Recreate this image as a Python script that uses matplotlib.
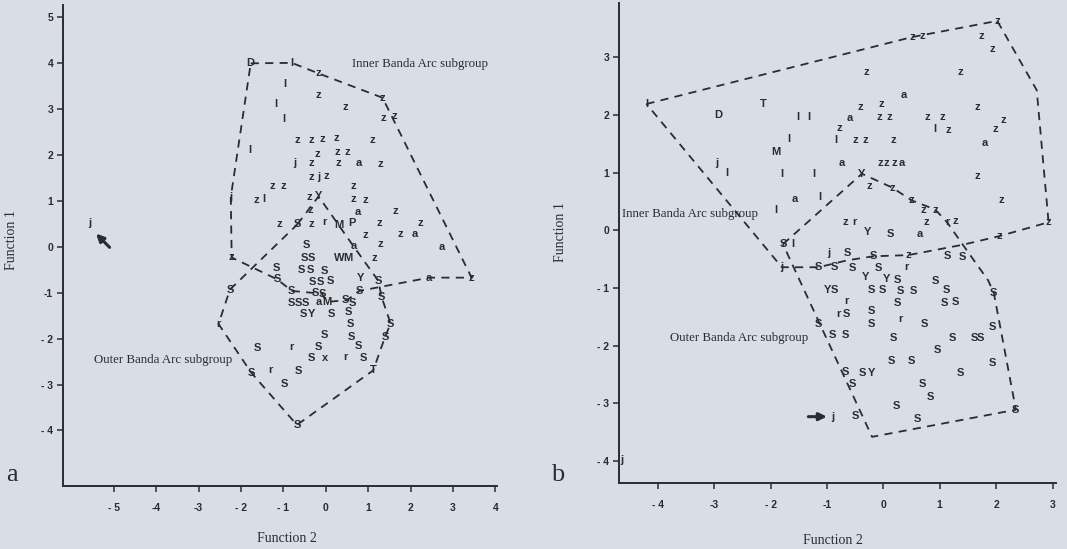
import matplotlib
matplotlib.use("Agg")
import matplotlib.pyplot as plt

# ---------------- data: panel a ----------------
a_labels = ("D l z z l z z l l z z".split()
            + "z z z z z l z z z".split()
            + "j z z a z z j z z z z".split()
            + "j z l z Y z z z a z".split()
            + "z S z r M P z z z z a a".split()
            + "S a z z S S W M z".split()
            + "S S S S Y S S S S S z a".split()
            + "S S S S S S S S S a M".split()
            + "S S S Y S S S S S S S".split()
            + "S r S S S x r S S r S".split()
            + "T S r S j".split())
a_x = [-1.77, -0.80, -0.17, 1.34, -0.96, -0.17, 0.47, -1.17, -1.00, 1.36, 1.61,
       -0.68, -0.35, -0.07, 0.26, 1.11, -1.79, -0.21, 0.28, 0.50,
       -0.74, -0.35, 0.30, 0.79, 1.28, -0.33, -0.17, 0.02, -1.25, -1.01, 0.65,
       -2.24, -1.64, -1.47, -0.39, -0.17, 0.64, 0.94, -0.37, 0.75, 1.63,
       -1.09, -0.67, -0.33, -0.02, 0.30, 0.61, 1.26, 2.24, 0.94, 1.75, 2.09, 2.74,
       -0.46, 0.65, 1.28, -2.22, -0.50, -0.35, 0.32, 0.52, 1.14,
       -1.16, -0.57, -0.37, -0.04, 0.81, -1.14, -0.32, -0.13, 0.10, 1.24, 3.44, 2.44,
       -2.26, -0.80, -0.25, -0.09, 0.79, 1.32, -0.80, -0.65, -0.49, -0.17, 0.02,
       0.46, 0.64, -0.53, -0.33, 0.14, 0.53, 0.59, 1.53, -0.04, 0.61, 1.40,
       -1.61, -0.80, -0.17, 0.77, -0.33, -0.02, 0.47, 0.89, -1.75, -1.30, -0.65,
       1.12, -0.98, -2.53, -0.68, -5.56]
a_y = [4.00, 4.01, 3.78, 3.25, 3.56, 3.30, 3.05, 3.12, 2.78, 2.81, 2.85,
       2.33, 2.33, 2.35, 2.37, 2.33, 2.12, 2.03, 2.07, 2.07,
       1.83, 1.82, 1.83, 1.83, 1.80, 1.53, 1.53, 1.54, 1.32, 1.32, 1.32,
       1.09, 1.02, 1.05, 1.09, 1.10, 1.05, 1.03, 0.80, 0.76, 0.78,
       0.49, 0.49, 0.49, 0.54, 0.47, 0.52, 0.52, 0.52, 0.25, 0.28, 0.29, 0.00,
       0.04, 0.02, 0.07, -0.23, -0.25, -0.25, -0.25, -0.25, -0.25,
       -0.47, -0.51, -0.51, -0.52, -0.67, -0.71, -0.76, -0.76, -0.75, -0.74, -0.67, -0.67,
       -0.93, -0.96, -1.00, -1.02, -0.96, -1.10, -1.23, -1.23, -1.23, -1.20, -1.20,
       -1.15, -1.23, -1.47, -1.47, -1.47, -1.42, -1.69, -1.67, -1.92, -1.96, -1.96,
       -2.20, -2.18, -2.18, -2.16, -2.43, -2.42, -2.41, -2.43, -2.75, -2.69, -2.70,
       -2.69, -2.98, -1.68, -3.88, 0.51]

a_inner_x = [-1.77, -0.80, -0.17, 1.34, 3.44, 2.44, 0.79, 0.50, 0.02, -0.09, -0.80, -1.14, -2.22, -2.24, -1.77]
a_inner_y = [4.00, 4.01, 3.78, 3.25, -0.67, -0.67, -0.96, -1.16, -1.20, -1.02, -0.96, -0.71, -0.23, 1.09, 4.00]
a_outer_x = [-0.67, -0.17, 0.65, 1.24, 1.32, 1.53, 1.40, 1.12, -0.68, -1.75, -2.53, -2.26, -0.67]
a_outer_y = [0.49, 1.10, 0.02, -0.74, -1.10, -1.67, -1.96, -2.69, -3.88, -2.75, -1.68, -0.93, 0.49]

a_xticks = [-5, -4, -3, -2, -1, 0, 1, 2, 3, 4]
a_xticklabels = ["- 5", "-4", "-3", "- 2", "- 1", "0", "1", "2", "3", "4"]
a_yticks = [5, 4, 3, 2, 1, 0, -1, -2, -3, -4]
a_yticklabels = ["5", "4", "3", "2", "1", "0", "-1", "- 2", "- 3", "- 4"]

# ---------------- data: panel b ----------------
b_labels = ("l D T l l a z z a z z".split()
            + "z z l z z z z a z l l".split()
            + "z z z M j l l l a z z".split()
            + "z a Y z z z z a l l z".split()
            + "z z z r z r z z".split()
            + "z z z z z z z".split()
            + "Y S a S l j j S S z S S".split()
            + "S S S S r Y Y S S".split()
            + "Y S S S S S S S".split()
            + "S S S r r S S S r S S S".split()
            + "S S S S S S S S S S S".split()
            + "S S Y S S S S S S S j z j".split())
b_x = [-4.20, -2.93, -2.13, -1.52, -1.33, -0.59, -0.40, -0.03, 0.37, -0.07, 0.10,
       0.78, 1.05, 0.92, 1.15, 1.66, 2.12, 1.98, 1.79, -0.78, -1.68, -0.84,
       -0.49, -0.32, 0.18, -1.91, -2.95, -2.77, -1.80, -1.24, -0.73, -0.06, 0.06,
       0.19, 0.33, -0.38, 1.66, -0.25, 0.16, 0.50, -1.57, -1.12, -1.91, 2.10,
       0.71, 0.92, -0.68, -0.51, 0.77, 1.13, 1.27, 2.93,
       2.02, 0.51, 0.69, 1.74, 1.94, -0.31, 1.36,
       -0.28, 0.12, 0.65, -1.78, -1.60, -1.80, -0.97, -0.64, -0.18, 0.44, 1.13, 1.40,
       -1.15, -0.87, -0.54, -0.09, 0.41, -0.31, 0.06, 0.25, 0.93,
       -0.99, -0.86, -0.22, -0.01, 0.31, 0.54, 1.12, 1.96,
       0.25, 1.08, 1.27, -0.66, -0.80, -0.65, -0.21, -0.21, 0.31, -1.15, 0.73, 1.94,
       -0.91, -0.68, 0.18, 1.23, 1.61, 1.73, 0.96, 0.15, 0.49, 1.94, 1.36,
       -0.67, -0.37, -0.21, -0.54, 0.70, 0.84, 0.23, 2.35, -0.50, 0.61, -0.90, 2.06, -4.64]
b_y = [2.19, 2.00, 2.19, 1.96, 1.96, 1.94, 2.14, 2.19, 2.34, 1.96, 1.96,
       1.96, 1.96, 1.75, 1.74, 2.14, 1.92, 1.76, 1.52, 1.78, 1.59, 1.56,
       1.56, 1.56, 1.56, 1.36, 1.16, 1.00, 0.98, 0.98, 1.16, 1.16, 1.16,
       1.16, 1.16, 0.98, 0.94, 0.77, 0.74, 0.52, 0.54, 0.57, 0.36, 0.53,
       0.36, 0.36, 0.14, 0.14, 0.14, 0.14, 0.16, 0.14,
       3.63, 3.35, 3.36, 3.36, 3.14, 2.75, 2.75,
       -0.03, -0.06, -0.06, -0.24, -0.23, -0.64, -0.40, -0.39, -0.45, -0.43, -0.45, -0.46,
       -0.64, -0.64, -0.66, -0.66, -0.64, -0.81, -0.84, -0.86, -0.87,
       -1.03, -1.03, -1.04, -1.04, -1.05, -1.05, -1.04, -1.09,
       -1.26, -1.26, -1.24, -1.22, -1.45, -1.45, -1.39, -1.63, -1.53, -1.63, -1.63, -1.68,
       -1.82, -1.82, -1.87, -1.86, -1.87, -1.87, -2.07, -2.26, -2.26, -2.30, -2.47,
       -2.46, -2.47, -2.47, -2.66, -2.66, -2.89, -3.04, -3.11, -3.21, -3.27, -3.23, -0.10, -3.98]

b_inner_x = [-4.20, 0.51, 2.02, 2.72, 2.93, 2.06, 1.41, 0.44, -0.18, -0.64, -1.15, -1.80, -4.20]
b_inner_y = [2.19, 3.35, 3.63, 2.43, 0.14, -0.10, -0.25, -0.43, -0.45, -0.52, -0.64, -0.64, 2.19]
b_outer_x = [-1.78, -0.38, 0.16, 0.50, 0.92, 1.13, 1.41, 1.86, 1.96, 2.35, -0.20, -1.78]
b_outer_y = [-0.24, 0.98, 0.74, 0.52, 0.36, 0.14, -0.25, -0.87, -1.09, -3.11, -3.58, -0.24]

b_xticks = [-4, -3, -2, -1, 0, 1, 2, 3]
b_xticklabels = ["- 4", "-3", "- 2", "-1", "0", "1", "2", "3"]
b_yticks = [3, 2, 1, 0, -1, -2, -3, -4]
b_yticklabels = ["3", "2", "1", "0", "- 1", "- 2", "- 3", "- 4"]

assert len(a_labels) == len(a_x) == len(a_y)
assert len(b_labels) == len(b_x) == len(b_y)

# ---------------- style ----------------
BG = "#d9dee6"
INK = "#2b2b30"
SERIF = ["Liberation Serif", "DejaVu Serif"]
SANS = ["Liberation Sans", "DejaVu Sans"]

fig = plt.figure(figsize=(10.67, 5.49), dpi=100, facecolor=BG)


def setup(ax, xlim, ylim, xt, xtl, yt, ytl):
    ax.set_facecolor(BG)
    ax.set_xlim(*xlim)
    ax.set_ylim(*ylim)
    for s in ("top", "right"):
        ax.spines[s].set_visible(False)
    for s in ("left", "bottom"):
        ax.spines[s].set_color(INK)
        ax.spines[s].set_linewidth(1.4)
    ax.set_xticks(xt)
    ax.set_xticklabels(xtl)
    ax.set_yticks(yt)
    ax.set_yticklabels(ytl)
    ax.tick_params(direction="out", length=4, width=1.1, color=INK,
                   labelcolor=INK, labelsize=7.5, pad=3)
    ax.tick_params(axis="x", pad=8)
    for lab in ax.get_xticklabels() + ax.get_yticklabels():
        lab.set_fontweight("bold")
        lab.set_family(SANS)


def letters(ax, labs, xs, ys):
    for t, x, y in zip(labs, xs, ys):
        ax.text(x, y, t, ha="center", va="center", fontsize=8,
                fontweight="bold", family=SANS, color=INK)


dash = dict(color=INK, lw=1.3, ls=(0, (4.5, 3.5)))
arrow = dict(arrowstyle="-|>,head_length=0.45,head_width=0.22",
             color=INK, lw=2.2, shrinkA=0, shrinkB=0)

# panel a
axa = fig.add_axes([0.059, 0.1148, 0.4068, 0.876])
setup(axa, (-6.2, 4.04), (-5.21, 5.27), a_xticks, a_xticklabels, a_yticks, a_yticklabels)
axa.plot(a_inner_x, a_inner_y, **dash)
axa.plot(a_outer_x, a_outer_y, **dash)
letters(axa, a_labels, a_x, a_y)
axa.annotate("", xy=(-5.42, 0.29), xytext=(-5.10, -0.01), arrowprops=arrow)
axa.text(0.61, 3.98, "Inner Banda Arc subgroup", ha="left", va="center",
         fontsize=9.3, family=SERIF, color=INK)
axa.text(-2.21, -2.47, "Outer Banda Arc subgroup", ha="right", va="center",
         fontsize=9.3, family=SERIF, color=INK)
fig.text(287 / 1067, 1 - 538 / 549, "Function 2", ha="center", va="center",
         fontsize=10, family=SERIF, color=INK)
fig.text(12 / 1067, 1 - 240 / 549, "Function 1", ha="center", va="center",
         rotation=90, fontsize=10, family=SERIF, color=INK)
fig.text(12 / 1067, 1 - 475 / 549, "a", ha="center", va="center",
         fontsize=19, family=SERIF, color=INK)

# panel b
axb = fig.add_axes([0.580, 0.1202, 0.4096, 0.8743])
setup(axb, (-4.69, 3.06), (-4.38, 3.94), b_xticks, b_xticklabels, b_yticks, b_yticklabels)
axb.plot(b_inner_x, b_inner_y, **dash)
axb.plot(b_outer_x, b_outer_y, **dash)
letters(axb, b_labels, b_x, b_y)
axb.annotate("", xy=(-1.0, -3.23), xytext=(-1.33, -3.23), arrowprops=arrow)
axb.text(-4.63, 0.28, "Inner Banda Arc subgroup", ha="left", va="center",
         fontsize=9.3, family=SERIF, color=INK)
axb.text(-3.79, -1.87, "Outer Banda Arc subgroup", ha="left", va="center",
         fontsize=9.3, family=SERIF, color=INK)
fig.text(833 / 1067, 1 - 540 / 549, "Function 2", ha="center", va="center",
         fontsize=10, family=SERIF, color=INK)
fig.text(560 / 1067, 1 - 232 / 549, "Function 1", ha="center", va="center",
         rotation=90, fontsize=10, family=SERIF, color=INK)
fig.text(558 / 1067, 1 - 475 / 549, "b", ha="center", va="center",
         fontsize=19, family=SERIF, color=INK)

fig.savefig("out.png", dpi=100, facecolor=BG)
